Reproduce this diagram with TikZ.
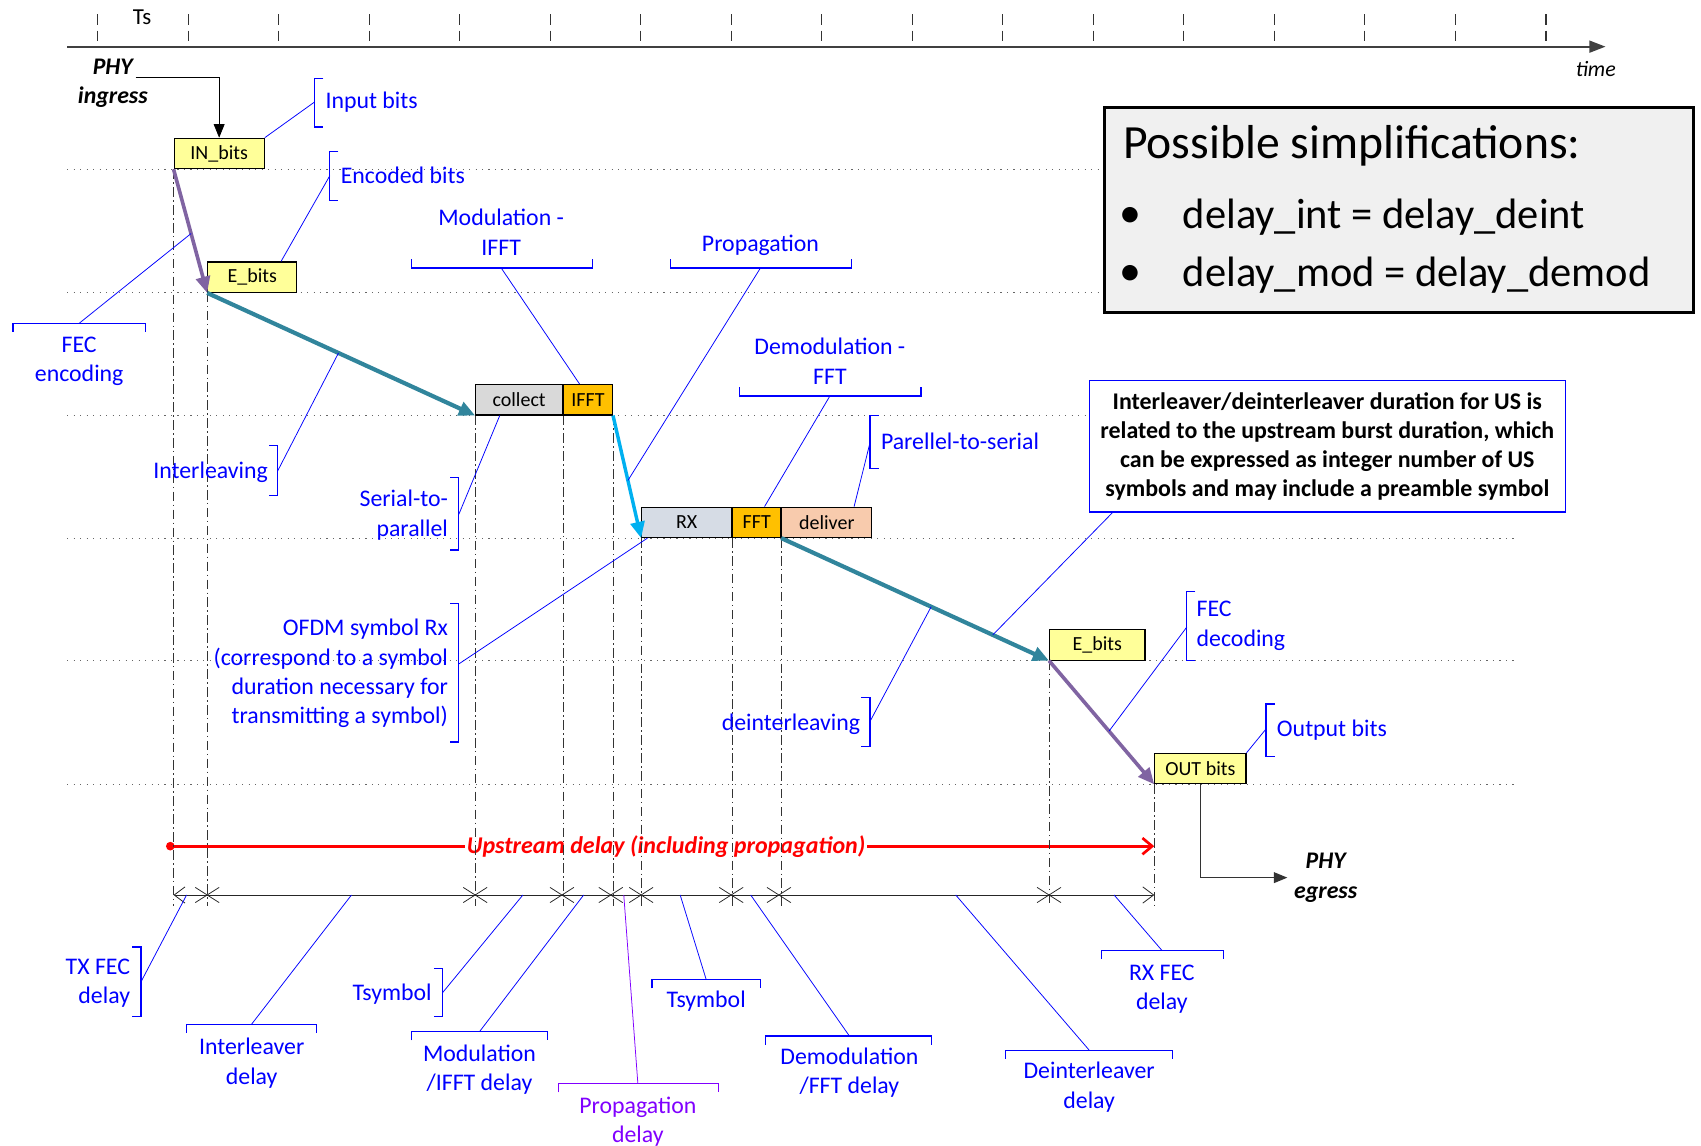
\documentclass[tikz,border=0pt]{standalone}
\usepackage{fontspec}
\setmainfont{Carlito}
\usetikzlibrary{arrows.meta, calc, positioning}

\definecolor{lblue}{HTML}{0000FF}
\definecolor{lviolet}{HTML}{8000FF}
\definecolor{bityellow}{HTML}{FFFF99}
\definecolor{collgray}{HTML}{D9D9D9}
\definecolor{fftorange}{HTML}{FFC000}
\definecolor{rxblue}{HTML}{D6DCE5}
\definecolor{dlvpeach}{HTML}{F8CBAD}
\definecolor{flowteal}{HTML}{31859C}
\definecolor{flowpurple}{HTML}{8064A2}
\definecolor{flowcyan}{HTML}{00B0F0}
\definecolor{simpgray}{HTML}{F0F0F0}

\begin{document}
\begin{tikzpicture}[x=0.02cm, y=-0.02cm,
    font=\fontsize{12.5}{15.4}\selectfont,
    bitbox/.style={draw, semithick, inner sep=0pt, minimum height=0.56cm, anchor=south west, font=\fontsize{10.5}{12}\selectfont},
    lbl/.style={text=lblue, inner sep=1pt},
    brk/.style={lblue, semithick},
    lead/.style={lblue, thin},
    level/.style={black!60, line width=0.6pt, dash pattern=on 0.6pt off 2.8pt},
    tline/.style={black!80, thin, dash pattern=on 5pt off 1.8pt on 0.8pt off 1.8pt},
    flow/.style={line width=2.2pt, -{Triangle[length=0.3cm, width=0.26cm]}},
    phy/.style={font=\fontsize{12.5}{15.4}\selectfont\bfseries\itshape, align=center},
]
\useasboundingbox (0,0) rectangle (1568,1056);

%%% Time axis
\coordinate (tstart) at (62,43);
\coordinate (tend) at (1480,43);
\draw[black!75, line width=1.1pt, -{Triangle[length=0.3cm, width=0.22cm]}] (tstart) -- (tend);
\foreach \i in {0,...,16}
    \draw[black!80, semithick, dash pattern=on 5.5pt off 3.2pt] ({90+83.44*\i},13) -- ({90+83.44*\i},38);
\node[font=\fontsize{12}{14}\selectfont] (tslbl) at (131,16) {Ts};
\node[font=\fontsize{11.5}{13}\selectfont\itshape] (timelbl) at (1471,64) {time};

%%% Levels
\foreach \yy in {156,270}
    \draw[level] (62,\yy) -- (1015,\yy);
\foreach \yy in {383,496,609,723}
    \draw[level] (62,\yy) -- (1397,\yy);

%%% Bit boxes
\node[bitbox, fill=bityellow, minimum width=1.66cm] (inb) at (160,156) {IN\_bits};
\node[bitbox, fill=bityellow, minimum width=1.64cm] (eb) at (191,270) {E\_bits};
\node[bitbox, fill=collgray, minimum width=1.6cm] (col) at (438,383) {collect};
\node[bitbox, fill=fftorange, minimum width=0.9cm] (ifft) at (col.south east) {IFFT};
\node[bitbox, fill=rxblue, minimum width=1.66cm] (rx) at (591,496) {RX};
\node[bitbox, fill=fftorange, minimum width=0.88cm] (fft) at (rx.south east) {FFT};
\node[bitbox, fill=dlvpeach, minimum width=1.66cm] (dlv) at (fft.south east) {deliver};
\node[bitbox, fill=bityellow, minimum width=1.76cm] (ebr) at (967,609) {E\_bits};
\node[bitbox, fill=bityellow, minimum width=1.68cm] (outb) at (1064,723) {OUT bits};

%%% PHY in / out
\node[phy] (phyin) at (104,77) {PHY\\ingress};
\coordinate (injoin) at (125,71);
\draw[thin, -{Triangle[length=0.25cm, width=0.2cm]}] (injoin) -| (inb.north);
\node[phy] (phyout) at (1222,809) {PHY\\egress};
\draw[semithick, black!80, -{Triangle[length=0.25cm, width=0.2cm]}] (outb.south) |- (phyout.west);

%%% Upstream delay
\coordinate (ustart) at (157,780);
\coordinate (uend) at (outb.south west |- ustart);
\draw[red, line width=1.4pt, -{Straight Barb[length=0.18cm, width=0.3cm]}] (ustart) -- (uend);
\fill[red] (ustart) circle (4);
\node[fill=white, text=red, font=\fontsize{12.6}{15}\selectfont\bfseries\itshape, inner sep=1pt] (updelay) at (614,780) {Upstream delay (including propagation)};

%%% Time lines
\coordinate (bot) at (0,835);
\foreach \a in {inb.south west, eb.south west, col.south west, ifft.south west, ifft.south east, rx.south west, fft.south west, fft.south east, ebr.south west, outb.south west}
    \draw[tline] (\a) -- (\a |- bot);

%%% Flow
\draw[flow, flowpurple, line width=1.9pt] (inb.south west) -- coordinate[pos=0.52] (fecenc) (eb.south west);
\draw[flow, flowteal] (eb.south west) -- coordinate[pos=0.49] (intlv) (col.south west);
\draw[flow, flowcyan, line width=1.8pt] (ifft.south east) -- coordinate[pos=0.53] (prop) (rx.south west);
\draw[flow, flowteal] (dlv.south west) -- coordinate[pos=0.56] (deintlv) coordinate[pos=0.79] (notept) (ebr.south west);
\draw[flow, flowpurple, line width=1.9pt] (ebr.south west) -- coordinate[pos=0.57] (fecdec) (outb.south west);

%%% Delay measure
\coordinate (mstart) at (160,825);
\coordinate (mend) at (1064,825);
\draw[black!85, thin, {Straight Barb[length=0.2cm, width=0.3cm]}-{Straight Barb[length=0.2cm, width=0.3cm]}] (mstart) -- (mend);
\foreach \x in {191,438,518,563,591,674,718,967}
    \draw[black!85, thin] ({\x-11},818) -- ({\x+11},832) ({\x-11},832) -- ({\x+11},818);

%%% Simplifications
\node[draw, line width=1.2pt, fill=simpgray, minimum width=10.86cm, minimum height=3.78cm, anchor=north west] (simp) at (1017,98) {};
\node[anchor=west, font=\fontsize{25}{28}\selectfont, inner sep=0pt] (simptitle) at (1035,134) {Possible simplifications:};
\node[font=\fontsize{23}{28}\selectfont, inner sep=0pt] (simpb1) at (1042,200) {\textbullet};
\node[anchor=west, font=\fontsize{22.3}{28}\selectfont, inner sep=0pt] (simpi1) at (1090,200) {delay\_int = delay\_deint};
\node[font=\fontsize{23}{28}\selectfont, inner sep=0pt] (simpb2) at (1042,254) {\textbullet};
\node[anchor=west, font=\fontsize{22.3}{28}\selectfont, inner sep=0pt] (simpi2) at (1090,254) {delay\_mod = delay\_demod};

%%% Note
\node[draw=lblue, semithick, fill=white, align=center, font=\fontsize{12.55}{15.2}\selectfont\bfseries, inner sep=3pt, minimum width=8.78cm, minimum height=2.42cm] (usnote) at (1223.5,411.5) {Interleaver/deinterleaver duration for US is\\related to the upstream burst duration, which\\can be expressed as integer number of US\\symbols and may include a preamble symbol};
\draw[lead] ($(usnote.south west)!0.05!(usnote.south east)$) -- (notept);

%%% Step labels
\node[lbl, anchor=west] (inlbl) at (298,94) {Input bits};
\draw[brk] (298,72) -- (290,72) -- (290,117) -- (298,117);
\draw[lead] (290,94) -- (inb.north east);
%
\node[lbl, anchor=west] (enclbl) at (312,162) {Encoded bits};
\draw[brk] (312,140) -- (304,140) -- (304,185) -- (312,185);
\draw[lead] (304,162) -- ($(eb.north west)!0.82!(eb.north east)$);
%
\node[lbl, align=center] (feclbl) at (73,333) {FEC\\encoding};
\draw[brk] (12,306) -- (12,298) -- (134,298) -- (134,306);
\draw[lead] (73,298) -- (fecenc);
%
\node[lbl, align=center] (modlbl) at (462,214) {Modulation -\\IFFT};
\draw[brk] (379,239) -- (379,247) -- (546,247) -- (546,239);
\draw[lead] (462,247) -- ($(ifft.north west)!0.33!(ifft.north east)$);
%
\node[lbl] (proplbl) at (701,226) {Propagation};
\draw[brk] (618,239) -- (618,247) -- (785,247) -- (785,239);
\draw[lead] (701,247) -- (prop);
%
\node[lbl, align=center] (demodlbl) at (765,333) {Demodulation -\\FFT};
\draw[brk] (682,357) -- (682,365) -- (849,365) -- (849,357);
\draw[lead] (765,365) -- ($(fft.north west)!0.66!(fft.north east)$);
%
\node[lbl, anchor=west] (p2slbl) at (810,407) {Parellel-to-serial};
\draw[brk] (810,383) -- (802,383) -- (802,432) -- (810,432);
\draw[lead] (802,408) -- ($(dlv.north west)!0.8!(dlv.north east)$);
%
\node[lbl, anchor=east] (intlbl) at (249,435) {Interleaving};
\draw[brk] (248,411) -- (256,411) -- (256,457) -- (248,457);
\draw[lead] (256,434) -- (intlv);
%
\node[lbl, anchor=east, align=right] (s2plbl) at (415,475) {Serial-to-\\parallel};
\draw[brk] (415,440) -- (423,440) -- (423,507) -- (415,507);
\draw[lead] (423,474) -- ($(col.south west)!0.28!(col.south east)$);
%
\node[lbl, anchor=east, align=right] (ofdmlbl) at (415,621) {OFDM symbol Rx\\(correspond to a symbol\\duration necessary for\\transmitting a symbol)};
\draw[brk] (415,556) -- (423,556) -- (423,684) -- (415,684);
\draw[lead] (423,612) -- ($(rx.south west)!0.07!(rx.south east)$);
%
\node[lbl, anchor=east] (deintlbl) at (795,668) {deinterleaving};
\draw[brk] (794,643) -- (802,643) -- (802,688) -- (794,688);
\draw[lead] (802,665) -- (deintlv);
%
\node[lbl, anchor=west, align=left] (fecdlbl) at (1101,577) {FEC\\decoding};
\draw[brk] (1102,545) -- (1094,545) -- (1094,609) -- (1102,609);
\draw[lead] (1094,578) -- (fecdec);
%
\node[lbl, anchor=west] (outlbl) at (1175,673) {Output bits};
\draw[brk] (1175,649) -- (1167,649) -- (1167,697) -- (1175,697);
\draw[lead] (1167,672) -- (outb.north east);

%%% Delay labels
\coordinate (dtx) at (172,825);
\coordinate (dint) at (324,825);
\coordinate (dts1) at (482,825);
\coordinate (dmod) at (538,825);
\coordinate (dprop) at (575,825);
\coordinate (dts2) at (627,825);
\coordinate (ddem) at (692,825);
\coordinate (ddeint) at (881,825);
\coordinate (drx) at (1027,825);
%
\node[lbl, anchor=east, align=right] (txfec) at (122,906) {TX FEC\\delay};
\draw[brk] (122,873) -- (130,873) -- (130,937) -- (122,937);
\draw[lead] (130,905) -- (dtx);
%
\node[lbl, align=center] (intdly) at (232,980) {Interleaver\\delay};
\draw[brk] (172,952) -- (172,944) -- (292,944) -- (292,952);
\draw[lead] (232,944) -- (dint);
%
\node[lbl, anchor=east] (tsym1) at (400,916) {Tsymbol};
\draw[brk] (400,893) -- (408,893) -- (408,937) -- (400,937);
\draw[lead] (408,915) -- (dts1);
%
\node[lbl, align=center] (moddly) at (442,986) {Modulation\\/IFFT delay};
\draw[brk] (379,959) -- (379,951) -- (505,951) -- (505,959);
\draw[lead] (442,951) -- (dmod);
%
\node[lbl, text=lviolet, align=center] (propdly) at (588,1034) {Propagation\\delay};
\draw[brk, lviolet] (515,1007) -- (515,999) -- (662,999) -- (662,1007);
\draw[lead, lviolet] (588,999) -- (dprop);
%
\node[lbl] (tsym2) at (651,923) {Tsymbol};
\draw[brk] (601,911) -- (601,903) -- (701,903) -- (701,911);
\draw[lead] (651,903) -- (dts2);
%
\node[lbl, align=center] (demdly) at (783,989) {Demodulation\\/FFT delay};
\draw[brk] (706,963) -- (706,955) -- (859,955) -- (859,963);
\draw[lead] (783,955) -- (ddem);
%
\node[lbl, align=center] (deintdly) at (1004,1002) {Deinterleaver\\delay};
\draw[brk] (927,976) -- (927,968) -- (1081,968) -- (1081,976);
\draw[lead] (1004,968) -- (ddeint);
%
\node[lbl, align=center] (rxfec) at (1071,912) {RX FEC\\delay};
\draw[brk] (1015,884) -- (1015,876) -- (1128,876) -- (1128,884);
\draw[lead] (1071,876) -- (drx);
\end{tikzpicture}
\end{document}
